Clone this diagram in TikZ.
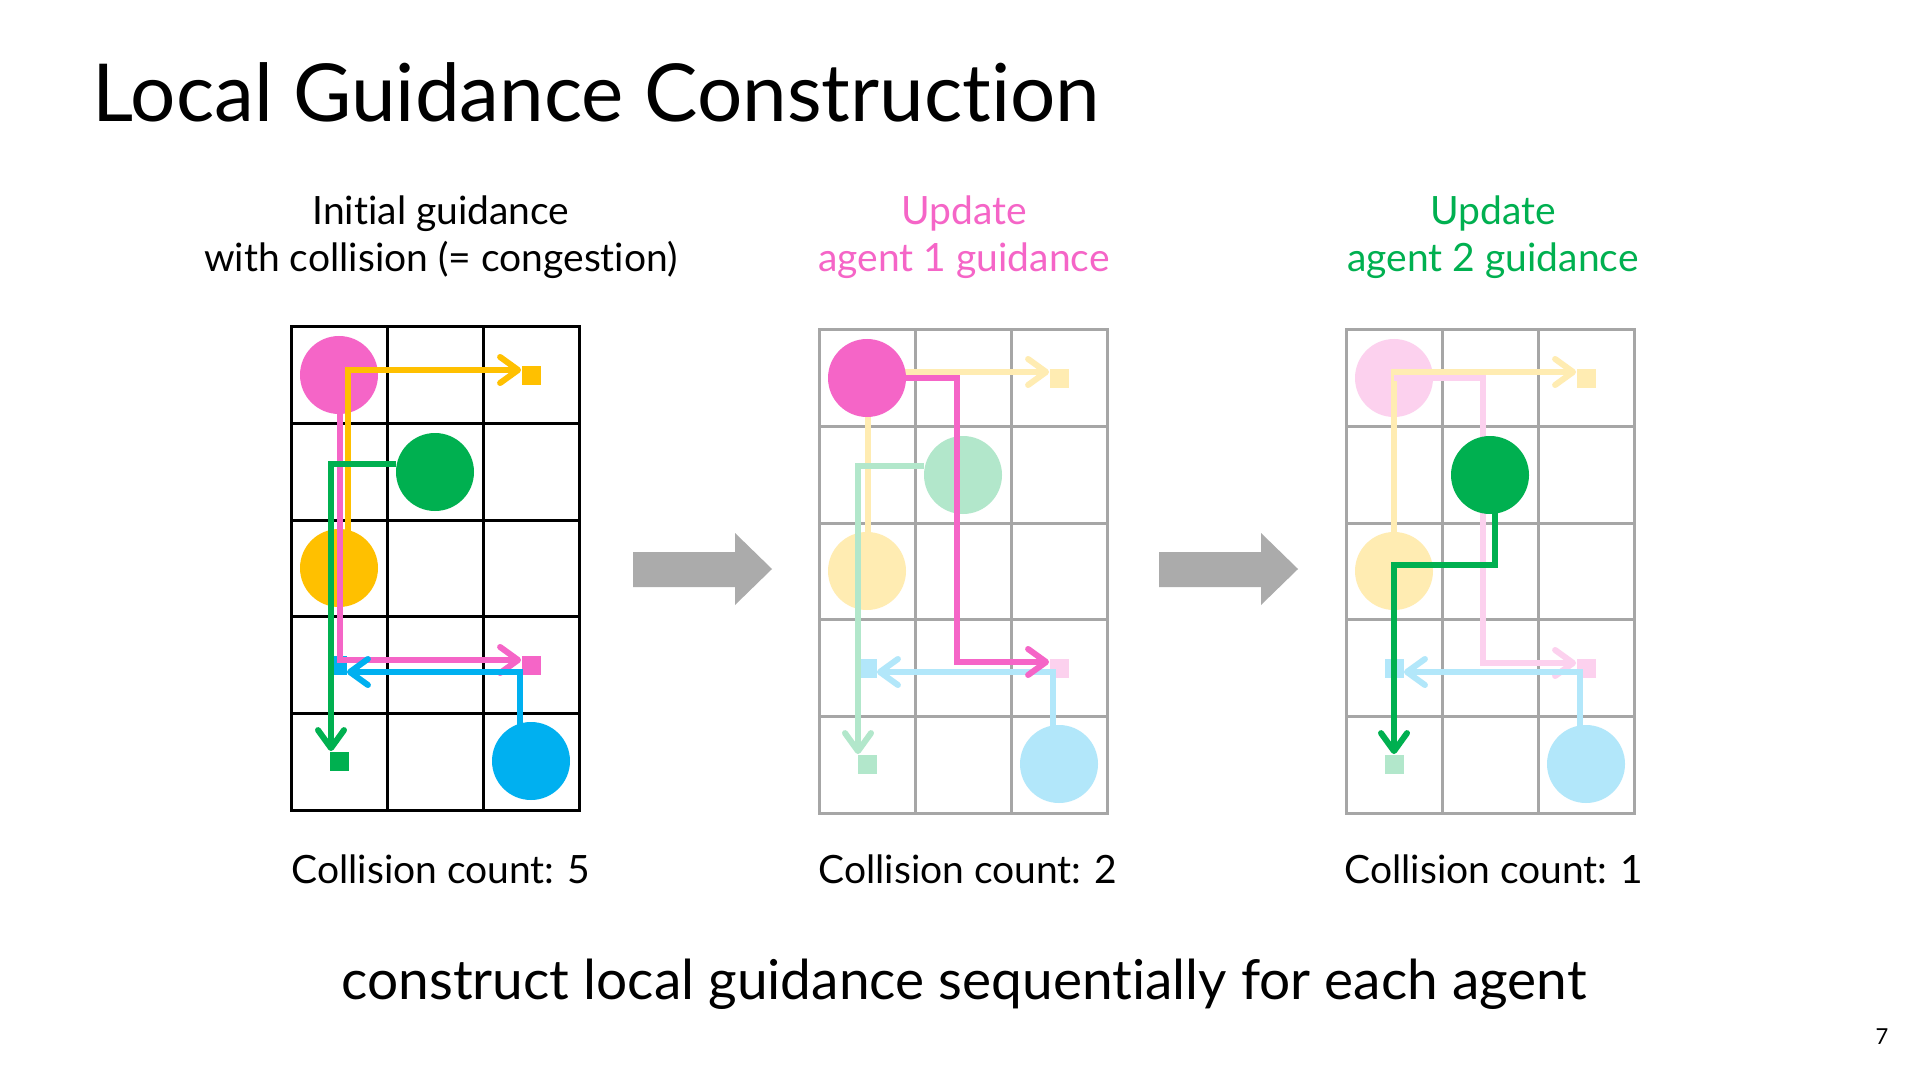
\documentclass[tikz,border=0pt]{standalone}
\usepackage{fontspec}
\setmainfont{Lato}[Ligatures={NoCommon,NoRare}]
\usetikzlibrary{arrows.meta}

\definecolor{agentpink}{HTML}{F565C7}
\definecolor{agentgreen}{HTML}{00B050}
\definecolor{agentyellow}{HTML}{FFC000}
\definecolor{agentblue}{HTML}{00B0F0}
\definecolor{gridgray}{HTML}{A6A6A6}
\definecolor{stepgray}{HTML}{ABABAB}

\begin{document}
\begin{tikzpicture}[x=0.5pt,y=-0.5pt,
    gridline/.style={line width=1.5pt,line cap=rect},
    agent/.style={circle,inner sep=0pt,minimum size=39pt,fill=#1},
    goal/.style={rectangle,inner sep=0pt,minimum size=9.5pt,fill=#1},
    route/.style={line width=3pt,draw=#1,line join=miter,
      -{Straight Barb[length=9pt,width=13pt,round]}},
    headtxt/.style={font=\fontsize{19.5}{23.5}\selectfont,align=center},
    counttxt/.style={font=\fontsize{19.5}{22}\selectfont}]
  \fill[white] (0,0) rectangle (1920,1080);
  \useasboundingbox (0,0) rectangle (1920,1080);

  \node[anchor=base west,inner sep=0pt,font=\fontsize{40}{46}\selectfont]
    (title) at (92,122) {Local Guidance Construction};

  % captions above and below the grids
  \node[headtxt] (head1) at (441,237) {Initial guidance\\with collision (= congestion)};
  \node[headtxt,text=agentpink] (head2) at (964,237) {Update\\agent 1 guidance};
  \node[headtxt,text=agentgreen] (head3) at (1493,237) {Update\\agent 2 guidance};
  \node[counttxt] (count1) at (441,869) {Collision count: 5};
  \node[counttxt] (count2) at (968,869) {Collision count: 2};
  \node[counttxt] (count3) at (1494,869) {Collision count: 1};

  % the 3x5 grids
  \foreach \gx/\gy/\gc in {291/327/black,819/330/gridgray,1346/330/gridgray}{
    \foreach \c in {0,...,3}
      \draw[gridline,draw=\gc] (\gx+\c*96,\gy) -- (\gx+\c*96,\gy+483);
    \foreach \r in {0,...,5}
      \draw[gridline,draw=\gc] (\gx,\gy+\r*96.6) -- (\gx+288,\gy+\r*96.6);
  }

  % grey step arrows
  \foreach \s in {0,526}
    \fill[stepgray] (633+\s,552) -- (735+\s,552) -- (735+\s,533) -- (772+\s,569)
      -- (735+\s,605) -- (735+\s,587) -- (633+\s,587) -- cycle;

  % grid 1: initial guidance
  \begin{scope}[shift={(291,327)}]
    \node[goal=agentyellow] (yg1) at (240,48) {};
    \node[goal=agentpink]   (pg1) at (240,338) {};
    \node[goal=agentblue]   (bg1) at (46,338) {};
    \node[goal=agentgreen]  (gg1) at (48,434) {};
    \node[agent=agentpink]   (pa1) at (48,48) {};
    \node[agent=agentgreen]  (ga1) at (144,145) {};
    \node[agent=agentyellow] (ya1) at (48,241) {};
    \node[agent=agentblue]   (ba1) at (240,434) {};
    \draw[route=agentyellow] ([xshift=4.5pt]ya1.center) |- ([yshift=2.5pt]yg1.west);
    \draw[route=agentpink] ([xshift=.5pt]pa1.center) |- ([yshift=2.5pt]pg1.west);
    \draw[route=agentgreen] ([yshift=4pt]ga1.west) -| ([xshift=-4pt]gg1.north);
    \draw[route=agentblue] ([xshift=-5.5pt]ba1.center) |- ([yshift=-3.5pt]bg1.east);
  \end{scope}

  % grid 2: agent 1 updated
  \begin{scope}[shift={(819,330)}]
    \node[goal=agentyellow!30] (yg2) at (240,48) {};
    \node[goal=agentpink!30]   (pg2) at (240,338) {};
    \node[goal=agentblue!30]   (bg2) at (48,338) {};
    \node[goal=agentgreen!30]  (gg2) at (48,434) {};
    \node[agent=agentgreen!30]  (ga2) at (144,145) {};
    \node[agent=agentyellow!30] (ya2) at (48,241) {};
    \node[agent=agentblue!30]   (ba2) at (240,434) {};
    \draw[route=agentyellow!30] ([xshift=.5pt]ya2.center) |- ([yshift=3pt]yg2.west);
    \draw[route=agentgreen!30] ([yshift=4.5pt]ga2.west) -| ([xshift=-4.5pt]gg2.north);
    \draw[route=agentblue!30] ([xshift=-3pt]ba2.center) |- ([yshift=-2pt]bg2.east);
    \node[agent=agentpink] (pa2) at (48,48) {};
    \draw[route=agentpink] (pa2.center) -| ([xshift=-3pt]ga2.center) |- ([yshift=3pt]pg2.west);
  \end{scope}

  % grid 3: agent 2 updated
  \begin{scope}[shift={(1346,330)}]
    \node[goal=agentyellow!30] (yg3) at (240,48) {};
    \node[goal=agentpink!30]   (pg3) at (240,338) {};
    \node[goal=agentblue!30]   (bg3) at (48,338) {};
    \node[goal=agentgreen!30]  (gg3) at (48,434) {};
    \node[agent=agentpink!30]   (pa3) at (48,48) {};
    \node[agent=agentyellow!30] (ya3) at (48,241) {};
    \node[agent=agentblue!30]   (ba3) at (240,434) {};
    \draw[route=agentyellow!30] (ya3.center) |- ([yshift=3pt]yg3.west);
    \draw[route=agentpink!30] (pa3.center) -| ([xshift=-3.5pt]ya3.center -| 144,0)
      |- ([yshift=2.5pt]pg3.west);
    \draw[route=agentblue!30] ([xshift=-3pt]ba3.center) |- ([yshift=-2pt]bg3.east);
    \node[agent=agentgreen] (ga3) at (144,145) {};
    \draw[route=agentgreen] ([xshift=2.5pt]ga3.center) |- ([yshift=3pt]ya3.center)
      -- (gg3.north);
  \end{scope}

  \node[font=\fontsize{27.5}{32}\selectfont] (footer) at (964,984)
    {construct local guidance sequentially for each agent};
  \node[font=\fontsize{11}{13}\selectfont] (pagenum) at (1882,1037) {7};
\end{tikzpicture}
\end{document}
